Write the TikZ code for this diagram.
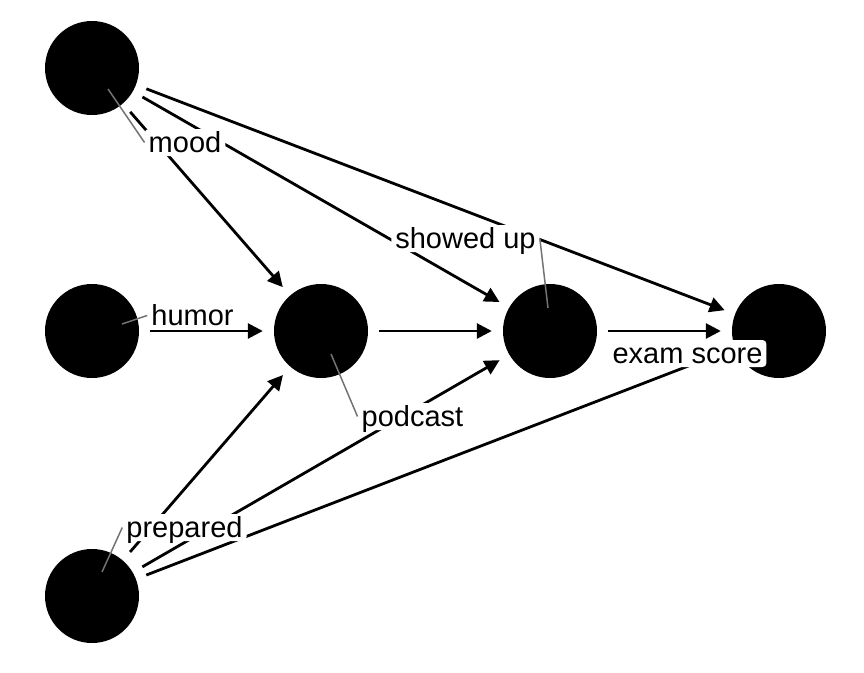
\documentclass[tikz,border=0pt]{standalone}
\usepackage{fontspec}
\setmainfont{Liberation Sans}
\usetikzlibrary{positioning,arrows.meta}

\begin{document}
\begin{tikzpicture}[x=1pt, y=-1pt, node distance={229pt}, on grid,
    main/.style={circle, fill=black, minimum size=94pt, inner sep=0pt},
    link/.style={line width=2.8pt, -{Triangle[length=15pt,width=15pt]}, shorten <=11pt, shorten >=11pt},
    tag/.style={fill=white, rounded corners=4pt, inner xsep=4pt, inner ysep=1pt, text height=22pt, text depth=3pt, anchor=base, font=\fontsize{29pt}{30pt}\selectfont},
    leader/.style={draw=black!55, line width=1.5pt}]
		\useasboundingbox (0,0) rectangle (864,672);

		\node[main] (humor) at (92,331) {};
		\node[main] (podcast) [right=of humor] {};
		\node[main] (showed) [right=of podcast] {};
		\node[main] (exam) [right=of showed] {};
		\node[main] (mood) [above=263pt of humor] {};
		\node[main] (prepared) [below=265pt of humor] {};

		\draw[link] (mood) -- (podcast);
		\draw[link] (mood) -- (showed);
		\draw[link] (mood) -- (exam);
		\draw[link] (humor) -- (podcast);
		\draw[link] (podcast) -- (showed);
		\draw[link] (showed) -- (exam);
		\draw[link] (prepared) -- (podcast);
		\draw[link] (prepared) -- (showed);
		\draw[link] (prepared) -- (exam);

		\node[tag] (moodtag) at (185,152) {mood};
		\node[tag] (humortag) at (192.5,325) {humor};
		\node[tag] (showedtag) at (465.5,248) {showed up};
		\node[tag] (podcasttag) at (412.5,426) {podcast};
		\node[tag] (preparedtag) at (184.5,537) {prepared};
		\node[tag] (examtag) at (687.5,363) {exam score};

		\draw[leader] ([shift={(16,21)}]mood.center) -- (moodtag.west);
		\draw[leader] ([shift={(30,-7)}]humor.center) -- (humortag.west);
		\draw[leader] ([shift={(10,23)}]podcast.center) -- (podcasttag.west);
		\draw[leader] ([shift={(-2,-23)}]showed.center) -- (showedtag.east);
		\draw[leader] ([shift={(10,-24)}]prepared.center) -- (preparedtag.west);
	\end{tikzpicture}
\end{document}
